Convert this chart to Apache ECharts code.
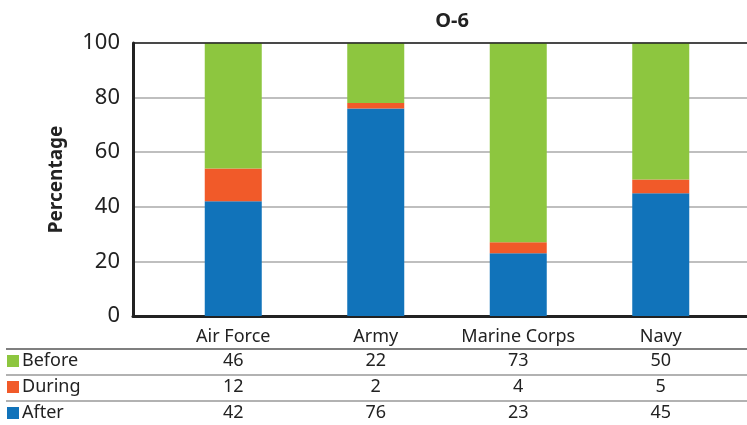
<!DOCTYPE html>
<html><head><meta charset="utf-8">
<script src="https://cdn.jsdelivr.net/npm/echarts@6/dist/echarts.min.js"></script>
<style>html,body{margin:0;padding:0;background:#fff}#c{width:747px;height:425px}</style>
</head><body><div id="c"></div>
<script>
var categories = ['Air Force', 'Army', 'Marine Corps', 'Navy'];
var before = [46, 22, 73, 50];
var during = [12, 2, 4, 5];
var after = [42, 76, 23, 45];
var yTicks = [0, 20, 40, 60, 80, 100];
var seriesNames = ['Before', 'During', 'After'];
var colors = {Before: '#8DC63F', During: '#F15A29', After: '#1173BA'};
var FONT = '"Noto Sans", "Open Sans", sans-serif';

var chart = echarts.init(document.getElementById('c'), null, {renderer: 'canvas'});
var option = {
  animation: false,
  title: {text: 'O-6', left: 447, top: 6, textAlign: 'center',
    textStyle: {fontFamily: FONT, fontSize: 20, fontWeight: 'bold', color: '#222'}},
  grid: [
    {left: 133, right: 0, top: 43, bottom: 109},
    {left: 162, right: 15, top: 43, bottom: 109}
  ],
  xAxis: [
    {gridIndex: 0, type: 'value', min: 0, max: 1, show: true,
      axisLine: {show: true, onZero: false, lineStyle: {color: '#222', width: 3}},
      axisTick: {show: false}, axisLabel: {show: false}, splitLine: {show: false}},
    {gridIndex: 1, type: 'category', data: categories,
      axisLine: {show: false}, axisTick: {show: false},
      axisLabel: {interval: 0, fontFamily: FONT, fontSize: 18, color: '#222', margin: 12}}
  ],
  yAxis: [
    {gridIndex: 0, type: 'value', min: yTicks[0], max: yTicks[yTicks.length - 1], interval: 20,
      name: 'Percentage', nameLocation: 'middle', nameGap: 67,
      nameTextStyle: {fontFamily: FONT, fontSize: 19, fontWeight: 'bold', color: '#222'},
      axisLine: {show: true, lineStyle: {color: '#222', width: 3}},
      axisTick: {show: false},
      axisLabel: {fontFamily: FONT, fontSize: 22, color: '#222', margin: 13},
      splitLine: {show: true, lineStyle: {color: '#aaa', width: 1.5}}},
    {gridIndex: 1, type: 'value', min: 0, max: 100, show: false}
  ],
  series: [
    {name: 'After', type: 'bar', stack: 's', xAxisIndex: 1, yAxisIndex: 1, data: after, barWidth: 57, itemStyle: {color: colors.After}},
    {name: 'During', type: 'bar', stack: 's', xAxisIndex: 1, yAxisIndex: 1, data: during, barWidth: 57, itemStyle: {color: colors.During}},
    {name: 'Before', type: 'bar', stack: 's', xAxisIndex: 1, yAxisIndex: 1, data: before, barWidth: 57, itemStyle: {color: colors.Before}}
  ]
};
chart.setOption(option);

var elements = [];
elements.push({type: 'line', shape: {x1: 133, y1: 43, x2: 747, y2: 43}, style: {stroke: '#222', lineWidth: 1.5}, z: 10});

var rows = [before, during, after];
var rowY = [361, 387, 413];
var lineY = [349, 375, 401];
lineY.forEach(function (y, i) {
  elements.push({type: 'line', shape: {x1: 6, y1: y, x2: 747, y2: y},
    style: {stroke: i === 0 ? '#555' : '#999', lineWidth: 1.5}});
});
seriesNames.forEach(function (name, r) {
  elements.push({type: 'rect', shape: {x: 7, y: rowY[r] - 6, width: 12, height: 12}, style: {fill: colors[name]}});
  elements.push({type: 'text', x: 22, y: rowY[r], style: {text: name, fontFamily: FONT, fontSize: 18, fill: '#222', textVerticalAlign: 'middle', verticalAlign: 'middle'}});
  rows[r].forEach(function (v, i) {
    var px = chart.convertToPixel({xAxisIndex: 1}, i);
    elements.push({type: 'text', x: px, y: rowY[r], style: {text: String(v), fontFamily: FONT, fontSize: 18, fill: '#222', textAlign: 'center', align: 'center', textVerticalAlign: 'middle', verticalAlign: 'middle'}});
  });
});
chart.setOption({graphic: {elements: elements}});
</script>
</body></html>
